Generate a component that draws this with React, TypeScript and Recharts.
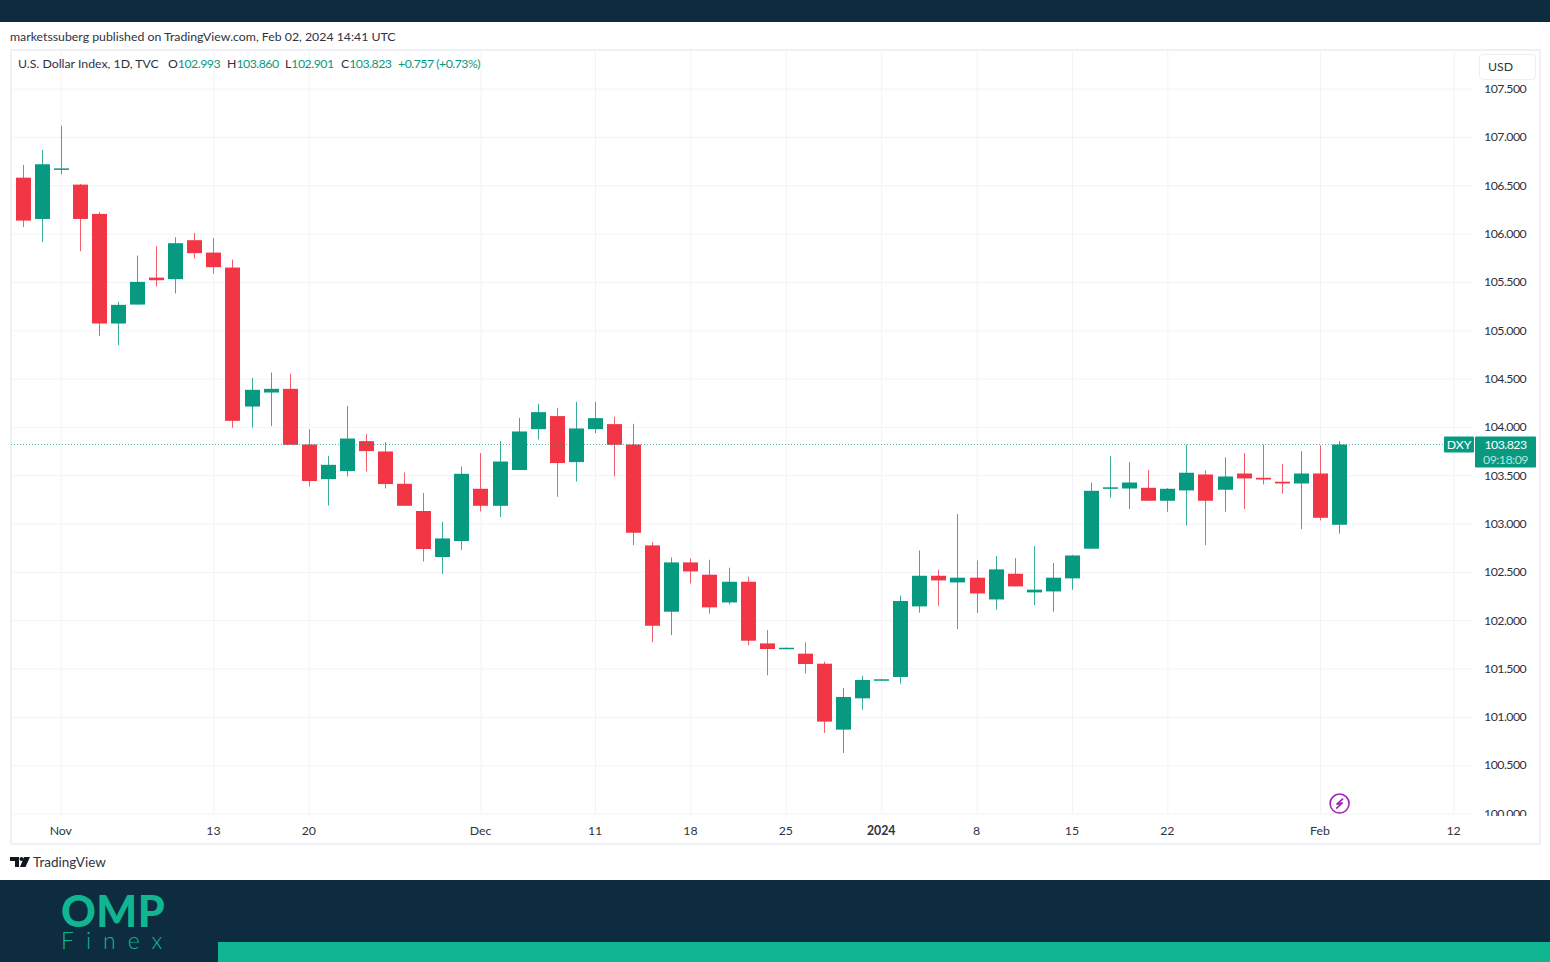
import { Bar, CartesianGrid, ComposedChart, ReferenceDot, ReferenceLine, XAxis, YAxis } from "recharts";

const UP = "#089981";
const DOWN = "#f23645";
const NAVY = "#0e2c40";
const TEAL = "#10b592";
const FONT = "Lato, sans-serif";
const TEXT_SIZE = 12.3;
const DIGIT_SPACING = -0.5;

const days = [
  "2023-10-30", "2023-10-31", "2023-11-01", "2023-11-02", "2023-11-03", "2023-11-06", "2023-11-07", "2023-11-08",
  "2023-11-09", "2023-11-10", "2023-11-13", "2023-11-14", "2023-11-15", "2023-11-16", "2023-11-17", "2023-11-20",
  "2023-11-21", "2023-11-22", "2023-11-23", "2023-11-24", "2023-11-27", "2023-11-28", "2023-11-29", "2023-11-30",
  "2023-12-01", "2023-12-04", "2023-12-05", "2023-12-06", "2023-12-07", "2023-12-08", "2023-12-11", "2023-12-12",
  "2023-12-13", "2023-12-14", "2023-12-15", "2023-12-18", "2023-12-19", "2023-12-20", "2023-12-21", "2023-12-22",
  "2023-12-25", "2023-12-26", "2023-12-27", "2023-12-28", "2023-12-29", "2024-01-01", "2024-01-02", "2024-01-03",
  "2024-01-04", "2024-01-05", "2024-01-08", "2024-01-09", "2024-01-10", "2024-01-11", "2024-01-12", "2024-01-15",
  "2024-01-16", "2024-01-17", "2024-01-18", "2024-01-19", "2024-01-22", "2024-01-23", "2024-01-24", "2024-01-25",
  "2024-01-26", "2024-01-29", "2024-01-30", "2024-01-31", "2024-02-01", "2024-02-02", "2024-02-05", "2024-02-06",
  "2024-02-07", "2024-02-08", "2024-02-09", "2024-02-12",
];

const opens = [
  106.584, 106.157, 106.668, 106.512, 106.209, 105.075, 105.271, 105.55, 105.534, 105.937,
  105.809, 105.654, 104.216, 104.361, 104.399, 103.823, 103.465, 103.548, 103.858, 103.751,
  103.417, 103.135, 102.659, 102.824, 103.365, 103.189, 103.559, 103.982, 104.117, 103.641,
  103.982, 104.034, 103.823, 102.779, 102.093, 102.603, 102.476, 102.189, 102.403, 101.765,
  101.706, 101.659, 101.555, 100.873, 101.197, 101.38, 101.418, 102.148, 102.465, 102.396,
  102.445, 102.22, 102.486, 102.293, 102.303, 102.438, 102.745, 103.365, 103.368, 103.375,
  103.241, 103.348, 103.513, 103.355, 103.523, 103.479, 103.438, 103.42, 103.523, 102.993,
];
const highs = [
  106.716, 106.871, 107.122, 106.519, 106.23, 105.299, 105.778, 105.875, 105.968, 106.012,
  105.958, 105.736, 104.513, 104.568, 104.557, 103.982, 103.706, 104.223, 103.931, 103.848,
  103.534, 103.321, 103.024, 103.596, 103.734, 103.858, 104.099, 104.244, 104.203, 104.265,
  104.265, 104.11, 104.037, 102.814, 102.655, 102.644, 102.631, 102.548, 102.455, 101.904,
  101.722, 101.776, 101.576, 101.304, 101.431, 101.394, 102.259, 102.727, 102.528, 103.104,
  102.624, 102.669, 102.648, 102.773, 102.597, 102.68, 103.43, 103.703, 103.641, 103.559,
  103.372, 103.82, 103.554, 103.689, 103.734, 103.823, 103.621, 103.755, 103.813, 103.86,
];
const lows = [
  106.074, 105.916, 106.619, 105.823, 104.947, 104.851, 105.271, 105.457, 105.385, 105.747,
  105.592, 103.996, 103.999, 104.014, 103.82, 103.389, 103.192, 103.492, 103.544, 103.368,
  103.189, 102.613, 102.483, 102.731, 103.13, 103.072, 103.559, 103.875, 103.282, 103.441,
  103.941, 103.492, 102.783, 101.776, 101.852, 102.386, 102.073, 102.169, 101.745, 101.435,
  101.706, 101.455, 100.839, 100.632, 101.08, 101.38, 101.349, 102.083, 102.155, 101.914,
  102.08, 102.114, 102.355, 102.162, 102.093, 102.321, 102.745, 103.272, 103.155, 103.241,
  103.127, 102.986, 102.783, 103.127, 103.155, 103.41, 103.317, 102.948, 103.037, 102.901,
];
const closes = [
  106.14, 106.723, 106.68, 106.157, 105.075, 105.268, 105.506, 105.523, 105.906, 105.803,
  105.658, 104.068, 104.389, 104.399, 103.82, 103.445, 103.613, 103.885, 103.755, 103.414,
  103.189, 102.742, 102.851, 103.52, 103.189, 103.647, 103.958, 104.158, 103.631, 103.989,
  104.096, 103.82, 102.91, 101.948, 102.603, 102.51, 102.138, 102.403, 101.793, 101.707,
  101.72, 101.552, 100.956, 101.211, 101.387, 101.394, 102.204, 102.465, 102.417, 102.445,
  102.282, 102.531, 102.355, 102.321, 102.445, 102.675, 103.344, 103.38, 103.43, 103.241,
  103.365, 103.531, 103.241, 103.492, 103.472, 103.461, 103.42, 103.523, 103.065, 103.823,
];

const priceTicks = [100, 100.5, 101, 101.5, 102, 102.5, 103, 103.5, 104, 104.5, 105, 105.5, 106, 106.5, 107, 107.5];
const timeTickDays = ["2023-11-01", "2023-11-13", "2023-11-20", "2023-12-01", "2023-12-11", "2023-12-18", "2023-12-25", "2024-01-01", "2024-01-08", "2024-01-15", "2024-01-22", "2024-02-01", "2024-02-12"];
const timeTickLabels = ["Nov", "13", "20", "Dec", "11", "18", "25", "2024", "8", "15", "22", "Feb", "12"];

const lastPrice = 103.823;

const rows = days.map((day, i) =>
  i < opens.length
    ? { day, open: opens[i], high: highs[i], low: lows[i], close: closes[i], range: [lows[i], highs[i]] }
    : { day }
);

// wick + body, the body is placed from the bar's own pixel range
function Candle({ x, y, width, height, payload }: any) {
  if (payload.high == null) return null;
  const perUnit = height / (payload.high - payload.low);
  const top = y + (payload.high - Math.max(payload.open, payload.close)) * perUnit;
  const bodyH = Math.max(1.5, Math.abs(payload.open - payload.close) * perUnit);
  const color = payload.close >= payload.open ? UP : DOWN;
  const mid = Math.round(x + width / 2 - 0.5) + 0.5;
  return (
    <g>
      <line x1={mid} x2={mid} y1={y} y2={y + height} stroke={color} strokeOpacity={0.8} />
      <rect x={mid - width / 2} y={top} width={width} height={bodyH} fill={color} />
    </g>
  );
}

function TimeTick({ x, y, payload }: any) {
  const label = timeTickLabels[timeTickDays.indexOf(payload.value)];
  return (
    <text x={x} y={y} dx={-0.5} dy={14.5} textAnchor="middle" fontFamily={FONT} fontSize={TEXT_SIZE} fontWeight={label === "2024" ? 700 : 400} fill="#2f3340">
      {label}
    </text>
  );
}

function PriceTick({ x, y, payload }: any) {
  return (
    <text x={x} y={y} dy={3.8} textAnchor="start" fontFamily={FONT} fontSize={TEXT_SIZE} letterSpacing={DIGIT_SPACING} fill="#2f3340">
      {payload.value.toFixed(3)}
    </text>
  );
}

function LastPriceLabel({ viewBox }: any) {
  const y = viewBox.y;
  return (
    <g fontFamily={FONT} fontSize={TEXT_SIZE}>
      <rect x={1444} y={y - 8} width={30} height={16} rx={1} fill={UP} />
      <text x={1459} y={y + 4.5} textAnchor="middle" fill="#fff">DXY</text>
      <rect x={1475} y={y - 8} width={61} height={31} rx={1} fill={UP} />
      <text x={1505.5} y={y + 4.5} textAnchor="middle" letterSpacing={DIGIT_SPACING} fill="#fff">{lastPrice.toFixed(3)}</text>
      <text x={1505.5} y={y + 19} textAnchor="middle" letterSpacing={DIGIT_SPACING} fill="#b9e3da">09:18:09</text>
    </g>
  );
}

function BoltMark({ cx, cy }: any) {
  return (
    <g>
      <circle cx={cx} cy={cy} r={9.5} fill="#fff" stroke="#9c27b0" strokeWidth={1.6} />
      <path d={`M${cx + 3.5} ${cy - 5} L${cx - 3} ${cy + 0.8} L${cx + 3} ${cy - 0.8} L${cx - 3.5} ${cy + 5}`} fill="none" stroke="#9c27b0" strokeWidth={1.6} />
    </g>
  );
}

const abs = (left: number, top: number, width: number, height: number): React.CSSProperties => ({
  position: "absolute", left, top, width, height,
});

function Quote({ left, tag, value }: { left: number; tag: string; value: string }) {
  return (
    <span style={{ position: "absolute", left, top: 56, fontSize: TEXT_SIZE, lineHeight: "16px", color: "#2f3340", whiteSpace: "nowrap" }}>
      {tag}<span style={{ color: UP, letterSpacing: DIGIT_SPACING }}>{value}</span>
    </span>
  );
}

export default function App() {
  return (
    <div style={{ ...abs(0, 0, 1550, 962), background: "#fff", overflow: "hidden", fontFamily: FONT }}>
      <div style={{ ...abs(0, 0, 1550, 22), background: NAVY }} />
      <div style={{ position: "absolute", left: 10, top: 28, fontSize: TEXT_SIZE, lineHeight: "18px", color: "#2f3340", whiteSpace: "nowrap" }}>
        marketssuberg published on TradingView.com, Feb 02, 2024 14:41 UTC
      </div>
      <div style={{ ...abs(10, 49, 1531, 796), boxSizing: "border-box", border: "2px solid #eef0f4" }} />

      <div style={{ ...abs(0, 0, 1550, 962) }}>
        <ComposedChart width={1550} height={962} data={rows} margin={{ top: 50, right: 10, bottom: 118, left: 11 }}>
          <CartesianGrid stroke="#f2f3f6" syncWithTicks />
          <XAxis
            dataKey="day"
            ticks={timeTickDays}
            interval={0}
            padding={{ left: 2.6, right: 9.4 }}
            height={30}
            axisLine={false}
            tickLine={false}
            tickMargin={0}
            tick={<TimeTick />}
          />
          <YAxis
            orientation="right"
            domain={[100, 107.905]}
            ticks={priceTicks}
            width={67}
            allowDataOverflow
            axisLine={false}
            tickLine={false}
            tickMargin={5}
            tick={<PriceTick />}
          />
          <ReferenceLine y={lastPrice} stroke={UP} strokeOpacity={0.7} strokeDasharray="1 2" label={<LastPriceLabel />} />
          <Bar dataKey="range" barSize={15} shape={<Candle />} isAnimationActive={false} />
          <ReferenceDot x="2024-02-02" y={100.108} shape={<BoltMark />} />
        </ComposedChart>
      </div>

      {/* time axis strip hides the lower part of the 100.000 label */}
      <div style={{ ...abs(1474, 816, 64, 26), background: "#fff" }} />

      <div style={{ position: "absolute", left: 18, top: 56, fontSize: TEXT_SIZE, lineHeight: "16px", color: "#2f3340", whiteSpace: "nowrap" }}>
        U.S. Dollar Index, 1D, TVC
      </div>
      <Quote left={168} tag="O" value="102.993" />
      <Quote left={227} tag="H" value="103.860" />
      <Quote left={285} tag="L" value="102.901" />
      <Quote left={341} tag="C" value="103.823" />
      <Quote left={398} tag="" value="+0.757 (+0.73%)" />

      <div style={{ ...abs(1479, 54, 57, 26), boxSizing: "border-box", background: "#fff", border: "1px solid #eceef2", borderRadius: 4, fontSize: TEXT_SIZE, lineHeight: "24px", paddingLeft: 8, color: "#2f3340" }}>
        USD
      </div>

      <svg style={{ ...abs(10, 857, 20, 10) }} viewBox="0 0 20 10">
        <path d="M0 0H9V10H5V4H0Z M14 0H20L15.5 10H10Z" fill="#131722" />
        <circle cx={11.5} cy={2} r={2} fill="#131722" />
      </svg>
      <div style={{ position: "absolute", left: 33, top: 853, fontSize: 13.5, lineHeight: "18px", color: "#2f3340" }}>TradingView</div>

      <div style={{ ...abs(0, 880, 1550, 82), background: NAVY }} />
      <div style={{ ...abs(218, 942, 1332, 20), background: TEAL }} />
      <div style={{ position: "absolute", left: 61, top: 894, fontFamily: "Lato", fontWeight: 900, fontSize: 43, lineHeight: "34px", letterSpacing: 0.5, color: TEAL, whiteSpace: "nowrap" }}>OMP</div>
      <div style={{ position: "absolute", left: 61, top: 929, fontFamily: "Lato", fontWeight: 300, fontSize: 23, lineHeight: "22px", letterSpacing: 12, color: TEAL, whiteSpace: "nowrap" }}>Finex</div>
    </div>
  );
}
